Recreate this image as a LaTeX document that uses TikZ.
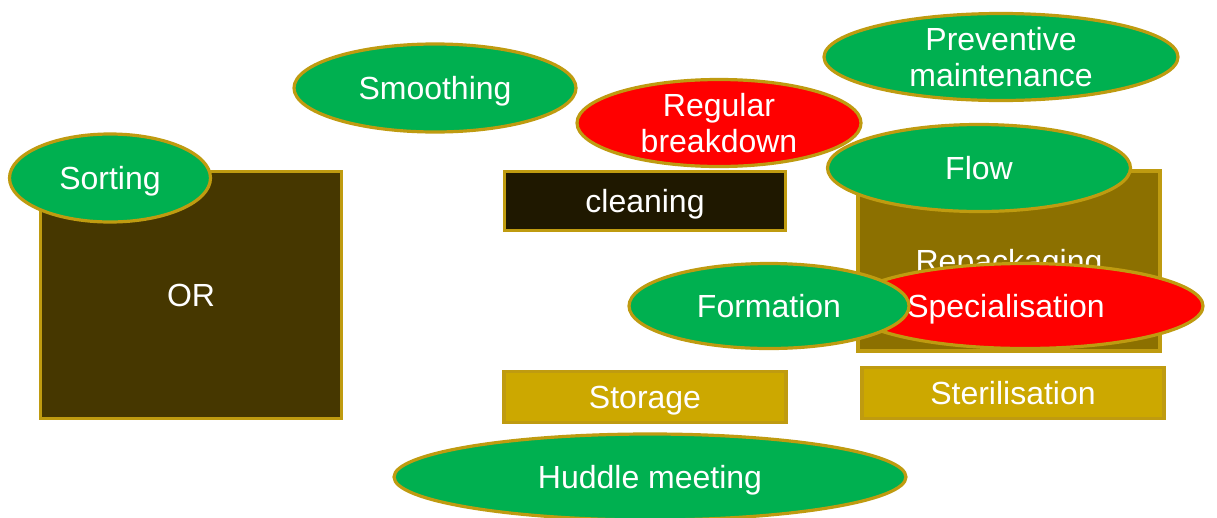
\documentclass[tikz,border=0pt]{standalone}
\usepackage{fontspec}
\setmainfont{Liberation Sans}
\usetikzlibrary{shapes.geometric}
\definecolor{gold}{HTML}{BF9B10}
\definecolor{grn}{HTML}{00B050}
\definecolor{rd}{HTML}{FF0000}
\definecolor{ordark}{HTML}{463700}
\definecolor{cleandark}{HTML}{1F1800}
\definecolor{repack}{HTML}{8C7000}
\definecolor{yel}{HTML}{CCA800}
\tikzset{
  base/.style={draw=gold, line width=3.2pt, text=white, inner sep=0pt,
    font=\fontsize{32}{36.5}\selectfont, align=center},
  one/.style={text height=22.9pt, text depth=0pt},
  ell/.style={base, ellipse},
  gell/.style={ell, fill=grn},
  rell/.style={ell, fill=rd},
  box/.style={base, rectangle},
}
\begin{document}
\begin{tikzpicture}[x=1pt,y=-1pt]
\useasboundingbox (0,0) rectangle (1217,517);
\node[box, one, fill=ordark, minimum width=301pt, minimum height=247pt] (or) at (191,295) {OR};
\node[gell, one, minimum width=201pt, minimum height=88pt] (sorting) at (110,178) {Sorting};
\node[gell, one, minimum width=282pt, minimum height=88pt] (smoothing) at (435,88) {Smoothing};
\node[box, one, fill=cleandark, minimum width=281pt, minimum height=59pt] (cleaning) at (645,201) {cleaning};
\node[rell, minimum width=284pt, minimum height=87pt] (regular) at (719,123) {Regular\\breakdown};
\node[gell, minimum width=354pt, minimum height=87pt] (prev) at (1001,57) {Preventive\\maintenance};
\node[box, one, fill=repack, minimum width=302pt, minimum height=180pt] (repack) at (1009,261) {Repackaging};
\node[gell, one, minimum width=303pt, minimum height=87pt] (flow) at (979,168) {Flow};
\node[rell, one, minimum width=356pt, minimum height=85pt] (spec) at (1025,306) {\hspace*{-38pt}Specialisation};
\node[gell, one, minimum width=280pt, minimum height=85pt] (form) at (769,306) {Formation};
\node[box, one, fill=yel, minimum width=282pt, minimum height=51pt] (storage) at (645,397) {Storage};
\node[box, one, fill=yel, minimum width=302pt, minimum height=51pt] (steril) at (1013,393) {Sterilisation};
\node[gell, one, minimum width=512pt, minimum height=86pt] (huddle) at (650,477) {Huddle meeting};
\end{tikzpicture}
\end{document}
